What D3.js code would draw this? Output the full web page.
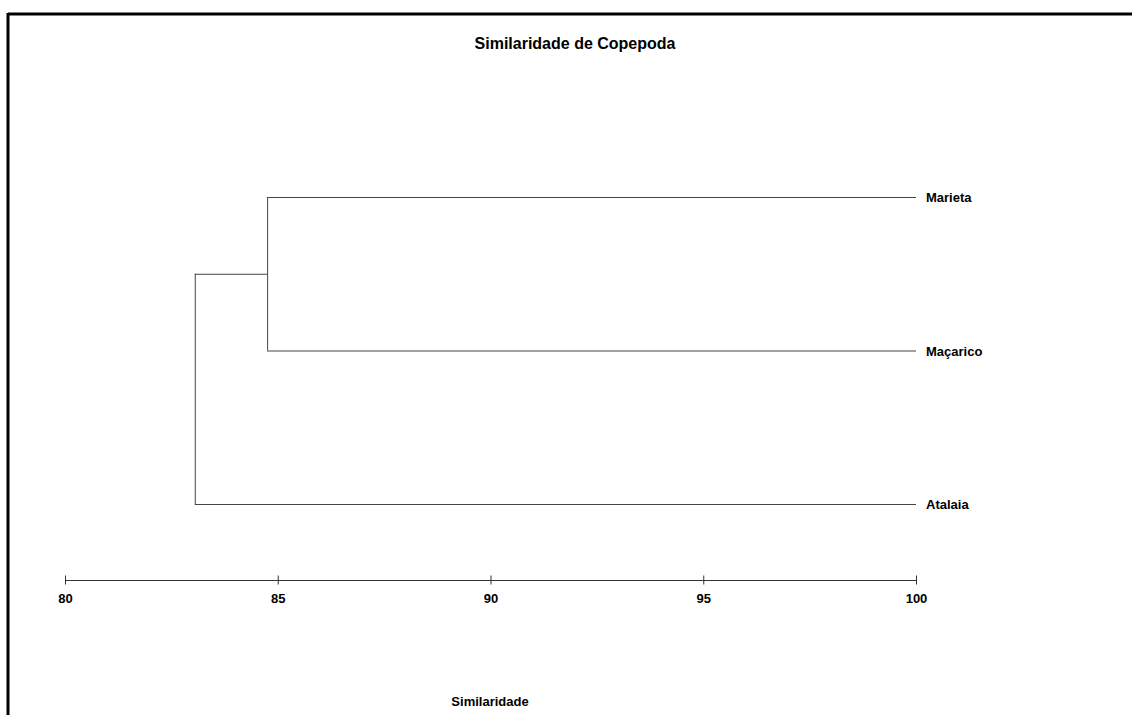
<!DOCTYPE html>
<html>
<head>
<meta charset="utf-8">
<script src="https://cdn.jsdelivr.net/npm/d3@7"></script>
<style>
  html, body { margin: 0; padding: 0; background: #fff; }
  svg { display: block; }
  text { font-family: "Liberation Sans", Arial, sans-serif; font-weight: bold; fill: #000; }
</style>
</head>
<body>
<svg id="chart" width="1132" height="715"></svg>
<script>
// Data
const leaves = ["Marieta", "Maçarico", "Atalaia"];
const mergeLevels = [84.75, 83.05]; // similarity at which clusters join
const ticks = [80, 85, 90, 95, 100];
const title = "Similaridade de Copepoda";
const xTitle = "Similaridade";

// Tree: ((Marieta, Maçarico) @ 84.75, Atalaia) @ 83.05
const treeData = {
  sim: mergeLevels[1],
  children: [
    { sim: mergeLevels[0], children: [ { name: leaves[0], sim: 100 }, { name: leaves[1], sim: 100 } ] },
    { name: leaves[2], sim: 100 }
  ]
};

const svg = d3.select("#chart");
const W = 1132, H = 715;

// frame (top and left lines)
svg.append("line").attr("x1", 8).attr("x2", W).attr("y1", 14).attr("y2", 14)
  .attr("stroke", "#000").attr("stroke-width", 3);
svg.append("line").attr("x1", 8).attr("x2", 8).attr("y1", 13).attr("y2", H)
  .attr("stroke", "#000").attr("stroke-width", 3);

const x = d3.scaleLinear().domain([80, 100]).range([65, 916]);
const y = d3.scalePoint().domain(leaves).range([197, 504]);

const root = d3.hierarchy(treeData);
root.eachAfter(n => {
  n.px = x(n.data.sim);
  n.py = n.children ? d3.mean(n.children, c => c.py) : y(n.data.name);
});

const g = svg.append("g");
root.descendants().filter(n => n.parent).forEach(n => {
  const p = n.parent;
  g.append("path")
    .attr("d", `M${p.px},${n.py}H${n.px}`)
    .attr("fill", "none").attr("stroke", "#444").attr("stroke-width", 1)
    .attr("transform", "translate(0,0.5)");
});
root.descendants().filter(n => n.children).forEach(n => {
  const ys = n.children.map(c => c.py);
  g.append("path")
    .attr("d", `M${n.px},${d3.min(ys)}V${d3.max(ys)}`)
    .attr("fill", "none").attr("stroke", "#444").attr("stroke-width", 1)
    .attr("transform", "translate(0.5,0)");
});

// leaf labels
root.leaves().forEach(n => {
  svg.append("text")
    .attr("x", n.px + 10).attr("y", n.py + 5)
    .attr("font-size", 13)
    .text(n.data.name);
});

// axis
const axis = d3.axisBottom(x).tickValues(ticks).tickFormat(d3.format("d")).tickSizeOuter(0);
const ag = svg.append("g").attr("transform", "translate(0,580.5)").call(axis);
ag.select(".domain").attr("stroke", "#333").attr("d", `M${x(80)},0H${x(100)}`);
ag.selectAll(".tick line").attr("y1", -5).attr("y2", 4).attr("stroke", "#333");
ag.selectAll(".tick text")
  .attr("y", 22).attr("dy", null)
  .attr("font-size", 13)
  .attr("font-family", "'Liberation Sans', Arial, sans-serif")
  .attr("font-weight", "bold")
  .attr("fill", "#000");

// titles
svg.append("text").attr("x", 575).attr("y", 49).attr("text-anchor", "middle")
  .attr("font-size", 16).text(title);
svg.append("text").attr("x", 490).attr("y", 706).attr("text-anchor", "middle")
  .attr("font-size", 13).text(xTitle);
</script>
</body>
</html>
